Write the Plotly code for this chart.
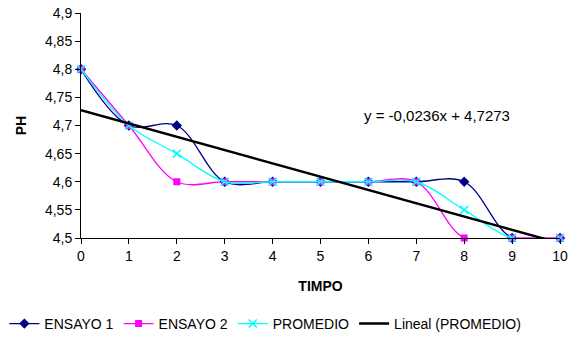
import numpy as np
import plotly.graph_objects as go

tiempo = [0, 1, 2, 3, 4, 5, 6, 7, 8, 9, 10]
ensayo1 = [4.8, 4.7, 4.7, 4.6, 4.6, 4.6, 4.6, 4.6, 4.6, 4.5, 4.5]
ensayo2 = [4.8, 4.7, 4.6, 4.6, 4.6, 4.6, 4.6, 4.6, 4.5, 4.5, 4.5]
promedio = [4.8, 4.7, 4.65, 4.6, 4.6, 4.6, 4.6, 4.6, 4.55, 4.5, 4.5]

slope, intercept = np.polyfit(tiempo, promedio, 1)
trend = [slope * x + intercept for x in tiempo]

font = "Liberation Sans, Arial, sans-serif"
fig = go.Figure()
fig.add_trace(go.Scatter(x=tiempo, y=ensayo1, name="ENSAYO 1", mode="lines+markers",
                         cliponaxis=False,
                         line=dict(color="#000080", width=1.3, shape="spline", smoothing=1),
                         marker=dict(symbol="diamond", size=8, color="#000080")))
fig.add_trace(go.Scatter(x=tiempo, y=ensayo2, name="ENSAYO 2", mode="lines+markers",
                         cliponaxis=False,
                         line=dict(color="#FF00FF", width=1.3, shape="spline", smoothing=1),
                         marker=dict(symbol="square", size=7, color="#FF00FF")))
fig.add_trace(go.Scatter(x=tiempo, y=promedio, name="PROMEDIO", mode="lines+markers",
                         cliponaxis=False,
                         line=dict(color="#00FFFF", width=1.3, shape="spline", smoothing=1),
                         marker=dict(symbol="x-thin", size=8, color="#00FFFF",
                                     line=dict(color="#00FFFF", width=1.5))))
fig.add_trace(go.Scatter(x=tiempo, y=trend, name="Lineal (PROMEDIO)", mode="lines",
                         line=dict(color="black", width=2.5)))

eq = "y = " + f"{slope:.4f}".replace(".", ",") + "x + " + f"{intercept:.4f}".replace(".", ",")
fig.add_annotation(x=5.86, y=4.717, xref="x", yref="y", text=eq, showarrow=False,
                   xanchor="left", font=dict(size=15, color="black", family=font))

fig.update_layout(
    width=579, height=333,
    margin=dict(l=73, r=27, t=5, b=103, autoexpand=False),
    paper_bgcolor="white", plot_bgcolor="white",
    separators=",.",
    font=dict(family=font, size=14, color="black"),
    showlegend=True,
    legend=dict(orientation="h", x=-0.16, xanchor="left", y=-0.311, yanchor="top",
                font=dict(size=14), tracegroupgap=0, itemwidth=30,
                borderwidth=0, bgcolor="rgba(0,0,0,0)"),
    xaxis=dict(range=[0, 10], tickmode="array", tickvals=tiempo, showgrid=False,
               zeroline=False, showline=True, linecolor="black", linewidth=1,
               ticks="outside", ticklen=5, tickcolor="black", automargin=False,
               ticklabeloverflow="allow",
               title=dict(text="<b>TIMPO</b>", font=dict(size=14), standoff=18)),
    yaxis=dict(range=[4.5, 4.9], dtick=0.05, tickformat=".2~f", showgrid=False,
               zeroline=False, showline=True, linecolor="black", linewidth=1,
               ticks="outside", ticklen=5, tickcolor="black", automargin=False,
               ticklabeloverflow="allow",
               title=dict(text="<b>PH</b>", font=dict(size=14), standoff=15)),
)
fig.write_html("out.html")
